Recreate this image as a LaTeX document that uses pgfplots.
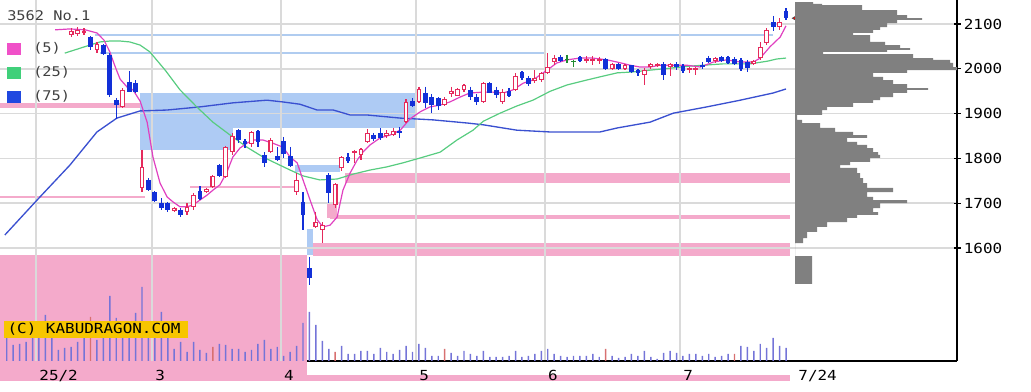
\documentclass[border=0pt]{standalone}
\usepackage{pgfplots}
\pgfplotsset{compat=1.18}
\usepackage{pgfplotstable}
\usepackage{fontspec}
\newfontfamily\cf[FakeStretch=1.15]{DejaVu Sans Mono}
\definecolor{cup}{HTML}{E52A5C}
\definecolor{cdn}{HTML}{1230D8}
\definecolor{cdoji}{HTML}{208A30}
\definecolor{ma5}{HTML}{E040C0}
\definecolor{ma25}{HTML}{58CC80}
\definecolor{ma75}{HTML}{3A50D0}
\definecolor{zpink}{HTML}{F4AACB}
\definecolor{zblue}{HTML}{AECBF4}
\definecolor{lblue}{HTML}{B0CCF0}
\definecolor{gridc}{HTML}{DADADA}
\definecolor{volb}{HTML}{7474D8}
\definecolor{volr}{HTML}{D87070}
\definecolor{prof}{HTML}{808080}
\definecolor{gold}{HTML}{F7C600}
\definecolor{lgpink}{HTML}{F050C8}
\definecolor{lggreen}{HTML}{40D07A}
\definecolor{lgblue}{HTML}{2048E0}

\pgfplotstableread{
d O H L C
9 2075 2091 2071 2084
10 2078 2093 2073 2086
11 2080 2091 2075 2085
13 2042 2060 2035 2055
17 1915 1957 1913 1953
20 1734 1819 1725 1781
25 1683 1692 1680 1689
27 1680 1700 1674 1692
28 1692 1723 1685 1718
30 1725 1734 1723 1731
31 1736 1763 1734 1761
33 1759 1828 1756 1825
34 1814 1857 1808 1850
37 1832 1861 1825 1859
40 1814 1846 1812 1841
44 1725 1767 1718 1752
47 1647 1681 1645 1658
48 1640 1658 1611 1651
50 1696 1745 1690 1743
51 1779 1805 1772 1803
53 1812 1819 1790 1817
54 1808 1823 1796 1821
55 1837 1866 1835 1857
58 1850 1863 1846 1857
59 1852 1868 1850 1861
61 1881 1932 1879 1926
63 1926 1960 1924 1955
67 1919 1937 1917 1933
68 1944 1960 1937 1950
69 1940 1957 1939 1955
70 1953 1966 1948 1964
73 1926 1971 1924 1968
76 1926 1955 1922 1948
78 1953 1990 1950 1984
81 1973 1997 1968 1980
82 1975 1993 1971 1990
83 1991 2035 1989 2004
84 2015 2031 2008 2024
89 2017 2029 2013 2022
90 2017 2029 2008 2022
91 2017 2027 2011 2022
93 2000 2013 1997 2011
95 2000 2011 1997 2008
98 1986 2002 1964 1997
99 2004 2013 2000 2011
100 2006 2013 2004 2011
102 2004 2013 1984 2011
105 1998 2004 1991 2002
106 1998 2004 1986 2002
109 2017 2026 2013 2024
115 2011 2020 2008 2017
116 2024 2060 2020 2049
117 2058 2091 2053 2087
119 2093 2113 2086 2104
}\up

\pgfplotstableread{
d O H L C
12 2071 2073 2042 2049
14 2053 2055 2031 2033
15 2031 2035 1937 1942
16 1930 1935 1888 1919
18 1971 1995 1948 1948
19 1968 1975 1946 1948
21 1752 1756 1727 1729
22 1725 1727 1703 1705
23 1700 1712 1685 1689
24 1700 1703 1680 1685
26 1685 1689 1669 1674
29 1727 1738 1707 1709
32 1785 1787 1759 1761
35 1863 1866 1834 1841
36 1839 1843 1823 1832
38 1861 1863 1825 1837
39 1808 1814 1781 1790
41 1805 1826 1794 1796
42 1838 1848 1801 1810
43 1805 1826 1781 1783
45 1703 1725 1640 1674
46 1555 1580 1517 1533
49 1763 1767 1700 1723
52 1803 1812 1790 1794
56 1852 1857 1839 1843
57 1857 1868 1841 1846
60 1861 1870 1846 1857
62 1928 1935 1915 1917
64 1946 1960 1913 1924
65 1937 1944 1901 1919
66 1935 1937 1908 1917
71 1953 1960 1930 1937
72 1937 1944 1919 1926
74 1968 1971 1946 1946
75 1953 1960 1935 1942
77 1950 1957 1937 1940
79 1993 1995 1975 1980
80 1980 1984 1962 1966
85 2027 2031 2015 2017
88 2026 2029 2015 2017
92 2022 2024 1997 2000
94 2011 2013 1997 2000
96 2008 2009 1991 1993
97 1997 2000 1984 1991
101 2011 2015 1975 1986
103 2011 2015 1997 2004
104 2006 2011 1991 1995
107 2008 2015 2000 2004
108 2024 2029 2013 2015
110 2026 2029 2015 2017
111 2026 2029 2011 2013
112 2022 2026 2008 2011
113 2020 2024 1995 2000
114 2015 2020 1993 2002
118 2104 2118 2084 2093
120 2129 2135 2109 2113
}\down

\pgfplotstableread{
d O H L C
86 2021 2031 2013 2021
87 2017 2020 2004 2017
}\doji

\pgfplotstableread{
d p
6.5 2087
8.8 2089
11.2 2087
13.0 2080
14.1 2064
15.0 2038
15.8 2006
16.6 1977
17.7 1959
18.6 1953
19.7 1928
20.8 1881
21.7 1803
22.8 1745
23.9 1714
24.8 1703
25.9 1692
27.0 1692
27.9 1696
29.0 1707
30.1 1718
31.0 1729
32.1 1741
33.2 1770
34.1 1803
35.2 1823
36.3 1834
37.2 1841
38.8 1841
40.3 1834
41.9 1825
43.0 1803
44.1 1790
45.0 1752
46.1 1707
47.2 1663
48.1 1647
49.2 1651
50.3 1669
51.2 1729
52.3 1767
53.4 1796
54.3 1814
55.4 1830
57.0 1846
58.5 1852
60.1 1863
61.6 1888
63.2 1904
64.7 1915
66.3 1919
67.8 1926
69.4 1937
70.9 1946
73.0 1948
74.5 1948
76.1 1946
77.6 1953
79.2 1968
80.7 1975
82.9 1997
84.4 2013
86.0 2020
88.0 2024
90.0 2024
92.2 2020
93.8 2015
95.8 2008
97.3 2004
98.9 2004
100.4 2008
102.5 2008
104.6 2008
106.7 2004
108.7 2015
110.8 2020
112.9 2015
114.9 2015
116.0 2024
117.5 2049
119.1 2071
120.0 2096
}\maA

\pgfplotstableread{
d p
8.0 2035
10.4 2046
11.9 2053
13.5 2060
15.0 2062
16.6 2062
18.1 2060
19.7 2053
21.2 2038
23.6 1997
25.9 1953
28.5 1915
31.0 1881
33.7 1852
36.3 1825
38.8 1803
41.4 1785
43.0 1774
45.0 1761
47.6 1752
50.3 1754
52.8 1765
55.4 1774
58.0 1781
60.5 1790
63.2 1801
66.3 1814
68.9 1841
71.4 1863
73.0 1883
75.6 1901
78.2 1917
80.7 1930
83.4 1950
86.0 1964
88.5 1973
91.1 1982
93.8 1991
96.2 1993
98.9 1997
105.1 2006
110.2 2011
114.4 2011
117.1 2017
118.6 2022
120.0 2024
}\maB

\pgfplotstableread{
d p
-1.3 1629
3.7 1707
8.8 1785
13.0 1859
16.1 1890
19.7 1906
23.9 1908
29.0 1915
34.1 1924
39.4 1930
41.9 1926
44.5 1921
47.2 1908
49.7 1908
52.3 1897
54.9 1897
60.1 1890
65.2 1886
70.5 1879
73.0 1875
78.2 1863
83.4 1859
91.1 1859
93.8 1868
98.9 1881
102.5 1901
107.7 1915
112.9 1930
118.0 1946
120.0 1955
}\maC

\pgfplotstableread{
d v
-1 23
0 16
1 17
2 19
3 23
4 26
5 46
6 28
7 11
8 13
9 14
10 19
11 26
13 21
14 23
15 65
16 43
17 23
18 23
19 48
20 74
21 23
22 28
23 49
24 23
25 12
26 19
27 9
28 19
29 11
30 8
32 17
33 16
34 12
35 12
36 9
37 11
38 17
39 21
40 12
41 14
42 5
43 9
44 15
45 38
46 49
47 36
48 20
49 12
51 15
52 7
53 7
54 10
55 10
56 7
57 13
58 9
59 7
60 11
61 15
62 9
63 17
64 13
65 5
66 5
68 8
69 5
70 10
71 7
72 5
73 10
74 4
75 4
76 4
77 5
78 10
79 4
80 5
81 7
82 10
83 12
84 7
85 5
86 4
87 5
88 5
89 5
90 7
91 4
93 5
94 3
95 4
96 7
97 5
98 10
99 4
100 2
101 8
102 10
103 8
104 5
105 7
106 7
107 5
108 7
109 4
110 5
111 7
113 15
114 14
115 10
116 17
117 13
118 23
119 15
120 13
}\volB

\pgfplotstableread{
d v
12 44
31 14
50 9
67 12
92 12
112 7
}\volR

\pgfplotstableread{
p len
1520 17
1582 0
1611 8
1622 12
1636 22
1647 32
1658 52
1667 62
1674 83
1680 78
1689 85
1700 112
1707 78
1714 72
1725 98
1734 72
1745 68
1756 65
1767 62
1779 45
1785 55
1792 75
1801 85
1808 83
1814 78
1823 72
1830 62
1837 52
1846 72
1852 58
1859 40
1868 25
1879 7
1886 2
1897 27
1908 32
1915 58
1924 78
1930 85
1937 98
1946 112
1953 133
1957 112
1966 98
1975 88
1982 78
1991 112
1997 162
2004 158
2013 155
2020 138
2024 118
2033 28
2038 92
2042 115
2046 105
2053 90
2060 75
2075 58
2080 78
2087 85
2093 92
2102 102
2109 127
2113 112
2120 102
2131 67
2142 27
2145 18
2149 0
}\prof

\begin{document}
\begin{tikzpicture}
\useasboundingbox (0,0) rectangle (773.25pt,294pt);
\pgfplotsset{base/.style={scale only axis, width=717.75pt, height=270.75pt,
  at={(0pt,23.25pt)}, anchor=south west},
  candle/.style={draw=none, mark=none, error bars/.cd, y dir=minus, y explicit, error mark=none}}
% ---------- background zones
\begin{axis}[base, xmin=-2.05, xmax=146.55, ymin=1347.8, ymax=2153.6, hide axis, clip=false]
\addplot[fill=zpink, draw=none] coordinates {(-2.05,1303) (45.6,1303) (45.6,1584.4) (-2.05,1584.4)};
\addplot[fill=zpink, draw=none] coordinates {(45.6,1303) (120.6,1303) (120.6,1316.6) (45.6,1316.6)};
\addplot[fill=zpink, draw=none] coordinates {(-2.05,1912.5) (19.7,1912.5) (19.7,1923.7) (-2.05,1923.7)};
\addplot[fill=zpink, draw=none] coordinates {(51.5,1745.1) (120.6,1745.1) (120.6,1767.4) (51.5,1767.4)};
\addplot[fill=zpink, draw=none] coordinates {(49.2,1664.8) (120.6,1664.8) (120.6,1673.7) (49.2,1673.7)};
\addplot[fill=zpink, draw=none] coordinates {(46.5,1582.2) (120.6,1582.2) (120.6,1611.2) (46.5,1611.2)};
\addplot[fill=zpink, draw=none] coordinates {(48.7,1667) (50.3,1667) (50.3,1700.5) (48.7,1700.5)};
\addplot[zpink, line width=1.1pt] coordinates {(-2.05,1714) (20.5,1714)};
\addplot[zpink, line width=1.1pt] coordinates {(27.5,1736) (44.2,1736)};
\addplot[fill=zblue, draw=none] coordinates {(19.7,1867.9) (62.4,1867.9) (62.4,1946) (19.7,1946)};
\addplot[fill=zblue, draw=none] coordinates {(19.7,1818.8) (34.1,1818.8) (34.1,1867.9) (19.7,1867.9)};
\addplot[fill=zblue, draw=none] coordinates {(43.8,1769.7) (50.7,1769.7) (50.7,1785.3) (43.8,1785.3)};
\addplot[fill=zblue, draw=none] coordinates {(45.6,1584.4) (46.5,1584.4) (46.5,1642.4) (45.6,1642.4)};
\addplot[lblue, line width=1.5pt] coordinates {(12.7,2075.4) (118,2075.4)};
\addplot[lblue, line width=1.5pt] coordinates {(13.5,2035.3) (82.6,2035.3)};
\end{axis}
% ---------- main price axis
\begin{axis}[base, xmin=-2.05, xmax=146.55, ymin=1347.8, ymax=2153.6, clip=false,
  axis x line*=bottom, axis y line*=right,
  x axis line style={draw=none}, y axis line style={line width=1.1pt},
  xtick={3.55,21.55,41.55,62.55,82.55,103.55}, xticklabels={25/2,3,4,5,6,7},
  extra x ticks={121.4}, extra x tick labels={7/24}, extra x tick style={grid=none},
  ytick={1600,1700,...,2100},
  grid=major, grid style={gridc, line width=1.3pt},
  xtick style={draw=none}, ytick style={black, line width=0.8pt},
  major tick length=5.25pt, tick align=center,
  ticklabel style={font=\cf\fontsize{10.4}{12}\selectfont, text=black},
  xticklabel style={anchor=north west, xshift=-1pt, yshift=-1pt},
  yticklabel style={anchor=west, xshift=-1pt},
  /pgf/number format/assume math mode=true, /pgf/number format/1000 sep={}]
\addplot[ma75, line width=1pt] table[x=d, y=p] {\maC};
\addplot[ma25, line width=0.9pt] table[x=d, y=p] {\maB};
\addplot[ma5, line width=0.9pt] table[x=d, y=p] {\maA};
% up candles
\addplot[candle, error bar style={draw=cup, line width=0.9pt}]
  table[x=d, y=H, y error expr=\thisrow{H}-\thisrow{L}] {\up};
\addplot[candle, error bar style={draw=cup, line width=3.6pt}]
  table[x=d, y=C, y error expr=\thisrow{C}-\thisrow{O}] {\up};
\addplot[candle, error bar style={draw=white, line width=1.9pt}]
  table[x=d, y expr=\thisrow{C}-2.6, y error expr={max(\thisrow{C}-\thisrow{O}-5.2,0)}] {\up};
% down candles
\addplot[candle, error bar style={draw=cdn, line width=0.9pt}]
  table[x=d, y=H, y error expr=\thisrow{H}-\thisrow{L}] {\down};
\addplot[candle, error bar style={draw=cdn, line width=3.6pt}]
  table[x=d, y=O, y error expr={max(\thisrow{O}-\thisrow{C},2)}] {\down};
% doji
\addplot[candle, error bar style={draw=cdoji, line width=0.9pt}]
  table[x=d, y=H, y error expr=\thisrow{H}-\thisrow{L}] {\doji};
\addplot[candle, error bar style={draw=cdoji, line width=3.6pt}]
  table[x=d, y expr=\thisrow{O}+1.2, y error expr=2.4] {\doji};
% last price marker
\addplot[only marks, mark=triangle*, mark size=4pt, mark options={rotate=90, fill=red, draw=black!70, line width=0.5pt}] coordinates {(121.8,2113)};
\draw[black, line width=1.1pt] (axis cs:45.6,1347.8) -- (axis cs:146.55,1347.8);
\end{axis}
% ---------- volume
\begin{axis}[base, xmin=-2.05, xmax=146.55, ymin=0, ymax=361, hide axis, clip=false]
\addplot[ybar, bar width=1.1pt, fill=volb, draw=none] table[x=d, y=v] {\volB};
\addplot[ybar, bar width=1.1pt, fill=volr, draw=none] table[x=d, y=v] {\volR};
\end{axis}
% ---------- volume profile
\begin{axis}[base, xmin=-795, xmax=162, ymin=1347.8, ymax=2153.6, hide axis]
\addplot[xbar interval, fill=prof, draw=none] table[x=len, y=p] {\prof};
\end{axis}
% ---------- legend and stamp
\node[anchor=west, inner sep=0, font=\cf\fontsize{10}{12}\selectfont, text=black!75] at (5.25pt,282.4pt) {3562 No.1};
\fill[lgpink] (5.25pt,252.75pt) rectangle (15.75pt,261.75pt);
\fill[lggreen] (5.25pt,234.75pt) rectangle (15.75pt,243.75pt);
\fill[lgblue] (5.25pt,216.75pt) rectangle (15.75pt,225.75pt);
\node[anchor=west, inner sep=0, font=\cf\fontsize{10}{12}\selectfont, text=black!75] at (24.75pt,257.6pt) {(5)};
\node[anchor=west, inner sep=0, font=\cf\fontsize{10}{12}\selectfont, text=black!75] at (24.75pt,239.6pt) {(25)};
\node[anchor=west, inner sep=0, font=\cf\fontsize{10}{12}\selectfont, text=black!75] at (24.75pt,221.6pt) {(75)};
\fill[gold] (3pt,40.5pt) rectangle (141pt,53.25pt);
\node[anchor=west, inner sep=0, font=\cf\fontsize{10.4}{12}\selectfont, text=black] at (5.5pt,46.9pt) {(C) KABUDRAGON.COM};
\end{tikzpicture}
\end{document}
